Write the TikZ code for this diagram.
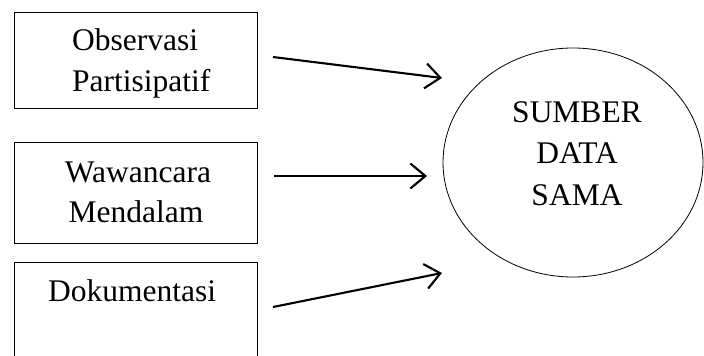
\documentclass[tikz,border=0pt]{standalone}
\usepackage{fontspec}
\setmainfont{Liberation Serif}
\usetikzlibrary{arrows.meta}
\begin{document}
\begin{tikzpicture}[x=1pt,y=-1pt,
  box/.style={draw,line width=0.9pt,inner sep=0pt,minimum width=243pt,anchor=north west},
  lbl/.style={inner sep=0pt,font=\fontsize{31.5}{41}\selectfont},
  conn/.style={line width=2.1pt,-{Straight Barb[length=15pt,width=25pt,line width=2.1pt]}}]
\useasboundingbox (0,0) rectangle (704,356);
% boxes
\node[box,minimum height=96pt] (obs) at (14,12) {};
\node[box,minimum height=101pt] (waw) at (14,142) {};
\node[box,minimum height=96pt] (dok) at (14,262) {};
% box texts
\node[lbl,anchor=base west] (obs1) at (72,50) {Observasi};
\node[lbl,anchor=base west] (obs2) at (72,91) {Partisipatif};
\node[lbl,anchor=base] (waw1) at (138,182) {Wawancara};
\node[lbl,anchor=base] (waw2) at (136,222) {Mendalam};
\node[lbl,anchor=base west] (dok1) at (48,301) {Dokumentasi};
% ellipse
\draw[line width=0.8pt] (573,162.5) ellipse [x radius=130, y radius=114.5];
\node[lbl,anchor=base] (s1) at (577,122) {SUMBER};
\node[lbl,anchor=base] (s2) at (577,163.5) {DATA};
\node[lbl,anchor=base] (s3) at (577,205) {SAMA};
% arrows
\coordinate (a1s) at (273,57);  \coordinate (a1e) at (442,78);
\coordinate (a2s) at (274,176); \coordinate (a2e) at (427,176);
\coordinate (a3s) at (273,307); \coordinate (a3e) at (442,273);
\draw[conn] (a1s) -- (a1e);
\draw[conn] (a2s) -- (a2e);
\draw[conn] (a3s) -- (a3e);
\end{tikzpicture}
\end{document}
